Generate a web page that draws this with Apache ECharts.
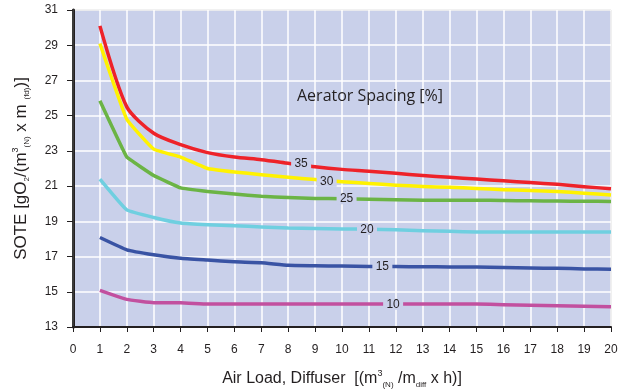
<!DOCTYPE html>
<html>
<head>
<meta charset="utf-8">
<script src="https://cdn.jsdelivr.net/npm/echarts@6/dist/echarts.min.js"></script>
<style>
  html, body { margin: 0; padding: 0; background: #fff; }
  #chart { width: 618px; height: 390px; }
</style>
</head>
<body>
<div id="chart"></div>
<script>
// air load, diffuser
const airLoad = [1, 2, 3, 4, 5, 6, 7, 8, 9, 10, 11, 12, 13, 14, 15, 16, 17, 18, 19, 20];

// SOTE per aerator spacing [%]
const spacing35 = [30.1, 25.5, 24.0, 23.35, 22.9, 22.65, 22.5, 22.3, 22.1, 21.95, 21.85, 21.73, 21.6, 21.5, 21.4, 21.3, 21.2, 21.1, 20.97, 20.85];
const spacing30 = [29.1, 24.8, 23.1, 22.65, 22.0, 21.8, 21.65, 21.5, 21.37, 21.25, 21.15, 21.05, 20.98, 20.93, 20.87, 20.8, 20.75, 20.7, 20.6, 20.5];
const spacing25 = [25.85, 22.65, 21.6, 20.9, 20.7, 20.55, 20.42, 20.35, 20.3, 20.28, 20.25, 20.22, 20.2, 20.2, 20.2, 20.18, 20.17, 20.15, 20.14, 20.13];
const spacing20 = [21.4, 19.65, 19.22, 18.9, 18.8, 18.75, 18.68, 18.62, 18.6, 18.57, 18.55, 18.52, 18.47, 18.43, 18.4, 18.4, 18.4, 18.4, 18.4, 18.4];
const spacing15 = [18.08, 17.38, 17.1, 16.9, 16.8, 16.7, 16.65, 16.5, 16.48, 16.46, 16.44, 16.43, 16.42, 16.41, 16.4, 16.38, 16.35, 16.33, 16.3, 16.28];
const spacing10 = [15.08, 14.57, 14.38, 14.38, 14.3, 14.3, 14.3, 14.3, 14.3, 14.3, 14.3, 14.3, 14.3, 14.3, 14.3, 14.27, 14.23, 14.2, 14.18, 14.15];

const seriesNames = ['35', '30', '25', '20', '15', '10'];
// where the inline curve labels sit
const labelX = [8.48, 9.43, 10.17, 10.93, 11.5, 11.9];
const labelY = [22.28, 21.27, 20.28, 18.54, 16.43, 14.29];
// the red curve is drawn a little rounder than the others
const smoothness = [0.25, 0.1, 0.05, 0.1, 0.1, 0.1];

// y axis runs 13..31 with ticks on odd values, so values are shifted by yBase
const yBase = 13;
const yTicks = [13, 15, 17, 19, 21, 23, 25, 27, 29, 31];

const colors = ['#ee2229', '#fff200', '#6bb445', '#6fcfe0', '#3953a4', '#c2509f'];
const plotBg = '#c9d0ea';
const font = '"Liberation Sans", Arial, sans-serif';

const chart = echarts.init(document.getElementById('chart'));

const allSeries = [spacing35, spacing30, spacing25, spacing20, spacing15, spacing10];

const nameRich = {
    sup: { fontSize: 9, lineHeight: 9, verticalAlign: 'top', fontFamily: font, color: '#231f20' },
    sub: { fontSize: 8, lineHeight: 8, verticalAlign: 'bottom', fontFamily: font, color: '#231f20' }
};

const series = allSeries.map((values, i) => ({
    name: seriesNames[i],
    type: 'line',
    showSymbol: false,
    symbol: 'none',
    smooth: smoothness[i],
    lineStyle: { width: 3.5, color: colors[i], join: 'round' },
    z: 3,
    data: values.map((v, j) => [airLoad[j], v - yBase]),
    markPoint: {
        silent: true,
        symbol: 'rect',
        symbolSize: [20, 11],
        itemStyle: { color: plotBg },
        label: {
            show: true,
            position: 'inside',
            color: '#231f20',
            fontSize: 12,
            fontFamily: font
        },
        data: [{ coord: [labelX[i], labelY[i] - yBase], value: seriesNames[i] }]
    }
}));

chart.setOption({
    backgroundColor: '#fff',
    animation: false,
    grid: {
        left: 73, right: 7, top: 10, bottom: 63,
        outerBoundsMode: 'none',
        show: true,
        backgroundColor: plotBg,
        borderColor: '#8a8a8a',
        borderWidth: 1
    },
    graphic: [{
        type: 'text',
        left: 297,
        top: 88,
        z: 10,
        style: {
            text: 'Aerator Spacing [%]',
            fontSize: 16,
            fontFamily: '"Open Sans", "Liberation Sans", sans-serif',
            fill: '#231f20'
        }
    }],
    xAxis: {
        type: 'value',
        min: 0,
        max: 20,
        interval: 1,
        name: 'Air Load, Diffuser  [(m{sup|3}{sub|(N)} /m{sub|diff} x h)]',
        nameLocation: 'middle',
        nameGap: 42,
        nameTextStyle: {
            fontSize: 16,
            fontFamily: font,
            color: '#231f20',
            lineHeight: 20,
            rich: nameRich
        },
        axisLine: { show: true, onZero: false, lineStyle: { color: '#231f20', width: 2 } },
        axisTick: { show: true, length: 5, lineStyle: { color: '#231f20', width: 1 } },
        axisLabel: { fontSize: 12, fontFamily: font, color: '#231f20', margin: 17 },
        splitLine: { show: true, lineStyle: { color: '#ffffff', width: 1.5 } }
    },
    yAxis: [{
        type: 'value',
        min: 0,
        max: 31 - yBase,
        interval: 2,
        name: 'SOTE [gO{sub|2}/(m{sup|3}{sub|(N)} x m {sub|(fd)})]',
        nameLocation: 'middle',
        nameGap: 42,
        nameTextStyle: {
            fontSize: 17,
            fontFamily: font,
            color: '#231f20',
            lineHeight: 20,
            rich: nameRich
        },
        axisLine: { show: true, onZero: false, lineStyle: { color: '#231f20', width: 3 } },
        axisTick: { show: true, length: 6, lineStyle: { color: '#231f20', width: 1 } },
        axisLabel: {
            fontSize: 12,
            fontFamily: font,
            color: '#231f20',
            margin: 15,
            formatter: v => String(yTicks[Math.round(v / 2)])
        },
        splitLine: { show: true, lineStyle: { color: '#ffffff', width: 1.5 } }
    }, {
        type: 'value',
        position: 'right',
        min: 0,
        max: 31 - yBase,
        interval: 2,
        axisLine: { show: true, lineStyle: { color: '#3a3a3a', width: 2 } },
        axisTick: { show: false },
        axisLabel: { show: false },
        splitLine: { show: false }
    }],
    series: series
});
</script>
</body>
</html>
